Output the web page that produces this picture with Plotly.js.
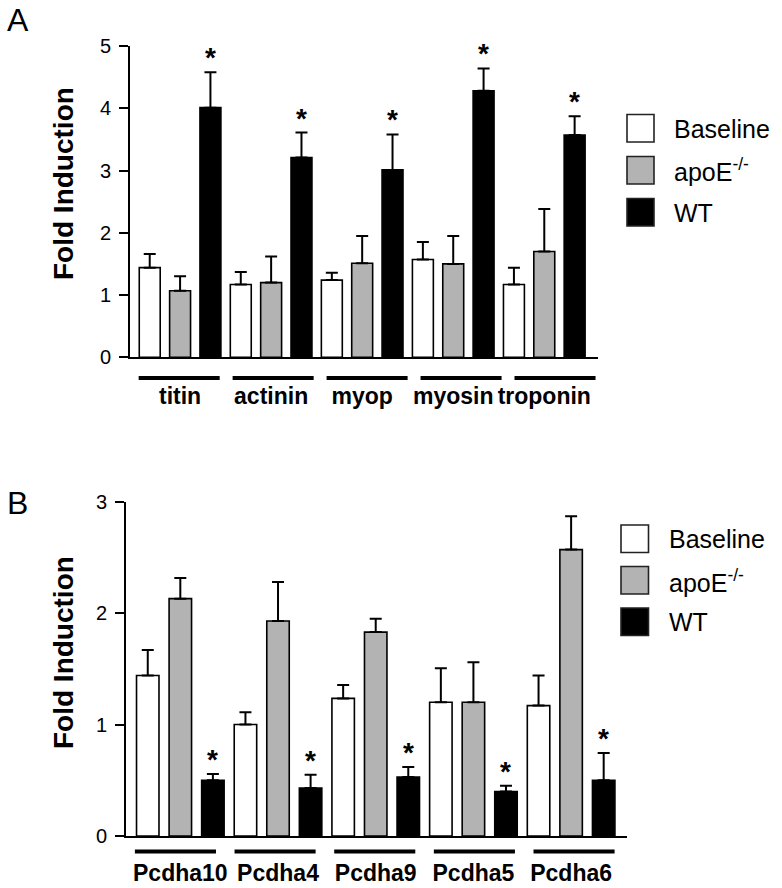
<!DOCTYPE html>
<html>
<head>
<meta charset="utf-8">
<script src="https://cdn.plot.ly/plotly-3.0.1.min.js"></script>
<style>html,body{margin:0;padding:0;background:#fff;}#chart{width:782px;height:888px;}</style>
</head>
<body>
<div id="chart"></div>
<script>
// ---- Data ----
const seriesNames = ['Baseline', 'apoE<sup>-/-</sup>', 'WT'];
const seriesColors = ['#ffffff', '#b3b3b3', '#000000'];

const catsA = ['titin', 'actinin', 'myop', 'myosin', 'troponin'];
const baseA = [1.44, 1.17, 1.24, 1.57, 1.17];
const baseErrA = [0.22, 0.20, 0.12, 0.28, 0.27];
const apoeA = [1.07, 1.20, 1.51, 1.50, 1.70];
const apoeErrA = [0.23, 0.42, 0.44, 0.45, 0.68];
const wtA = [4.01, 3.21, 3.01, 4.28, 3.57];
const wtErrA = [0.57, 0.40, 0.57, 0.36, 0.30];

const catsB = ['Pcdha10', 'Pcdha4', 'Pcdha9', 'Pcdha5', 'Pcdha6'];
const baseB = [1.44, 1.00, 1.235, 1.20, 1.17];
const baseErrB = [0.23, 0.11, 0.12, 0.305, 0.27];
const apoeB = [2.13, 1.93, 1.83, 1.20, 2.57];
const apoeErrB = [0.185, 0.35, 0.12, 0.36, 0.30];
const wtB = [0.50, 0.43, 0.53, 0.40, 0.50];
const wtErrB = [0.056, 0.12, 0.09, 0.05, 0.245];

const yTicksA = [0, 1, 2, 3, 4, 5];
const yTicksB = [0, 1, 2, 3];

// ---- Build ----
const FONT = 'Liberation Sans, Arial, Helvetica, sans-serif';
const W = 782, H = 888;
const px = v => v / W;            // px -> paper x
const py = v => (H - v) / H;      // px (from top) -> paper y

function barTrace(cats, vals, errs, k, xa, ya) {
  return {
    type: 'bar', x: cats, y: vals, xaxis: xa, yaxis: ya,
    name: seriesNames[k], showlegend: false, hoverinfo: 'skip',
    marker: {color: seriesColors[k], line: {color: '#000', width: 1.6}},
    error_y: {type: 'data', symmetric: false, array: errs, arrayminus: errs.map(() => 0),
              color: '#000', thickness: 2, width: 6}
  };
}

const data = [
  barTrace(catsA, baseA, baseErrA, 0, 'x', 'y'),
  barTrace(catsA, apoeA, apoeErrA, 1, 'x', 'y'),
  barTrace(catsA, wtA, wtErrA, 2, 'x', 'y'),
  barTrace(catsB, baseB, baseErrB, 0, 'x2', 'y2'),
  barTrace(catsB, apoeB, apoeErrB, 1, 'x2', 'y2'),
  barTrace(catsB, wtB, wtErrB, 2, 'x2', 'y2')
];

const annotations = [];
const shapes = [];

// asterisks above WT error bars
function stars(cats, vals, errs, xr, yr) {
  cats.forEach((c, i) => {
    annotations.push({xref: xr, yref: yr, x: i + 1/3, y: vals[i] + errs[i],
      text: '<b>*</b>', showarrow: false, yanchor: 'bottom', yshift: -3,
      font: {family: FONT, size: 28, color: '#000'}});
  });
}
stars(catsA, wtA, wtErrA, 'x', 'y');
stars(catsB, wtB, wtErrB, 'x2', 'y2');

// group underlines
function underlines(cats, xr, yPx, stretch, shift, half) {
  cats.forEach((c, i) => {
    const cx = i * stretch + shift;
    shapes.push({type: 'line', xref: xr, yref: 'paper', x0: cx - half, x1: cx + half,
      y0: py(yPx), y1: py(yPx), line: {color: '#000', width: 4}});
  });
}
underlines(catsA, 'x', 378, 1.032, -0.01, 0.445);
underlines(catsB, 'x2', 851.5, 1.02, -0.05, 0.415);

// custom legends
function legend(x0, x1, tops, textX) {
  seriesNames.forEach((n, k) => {
    shapes.push({type: 'rect', xref: 'paper', yref: 'paper', x0: px(x0), x1: px(x1),
      y0: py(tops[k] + 27.5), y1: py(tops[k]),
      fillcolor: seriesColors[k], line: {color: '#222', width: 1.6}});
    annotations.push({xref: 'paper', yref: 'paper', x: px(textX), y: py(tops[k] + 14),
      xanchor: 'left', yanchor: 'middle', showarrow: false, text: n,
      font: {family: FONT, size: 25, color: '#000'}});
  });
}
legend(627, 654, [114.5, 156.5, 198.5], 672);
legend(621, 648.5, [525, 566.5, 608], 667);

// y titles & panel letters
annotations.push({xref: 'paper', yref: 'paper', x: px(63), y: py(184), text: '<b>Fold Induction</b>',
  textangle: -90, showarrow: false, xanchor: 'center', yanchor: 'middle',
  font: {family: FONT, size: 28, color: '#000'}});
annotations.push({xref: 'paper', yref: 'paper', x: px(63), y: py(653), text: '<b>Fold Induction</b>',
  textangle: -90, showarrow: false, xanchor: 'center', yanchor: 'middle',
  font: {family: FONT, size: 28, color: '#000'}});
annotations.push({xref: 'paper', yref: 'paper', x: px(18), y: py(20), text: 'A',
  showarrow: false, xanchor: 'center', yanchor: 'middle', font: {family: FONT, size: 32, color: '#000'}});
annotations.push({xref: 'paper', yref: 'paper', x: px(17), y: py(503), text: 'B',
  showarrow: false, xanchor: 'center', yanchor: 'middle', font: {family: FONT, size: 32, color: '#000'}});

function xAxis(cats, dom, range, standoff) {
  return {domain: dom, type: 'category', categoryarray: cats, range: range,
    showline: true, linecolor: '#000', linewidth: 2, ticks: '', showgrid: false, zeroline: false,
    tickfont: {family: FONT, size: 23, color: '#000', weight: 'bold'},
    ticklabelstandoff: standoff, fixedrange: true};
}
function yAxis(dom, range, ticks) {
  return {domain: dom, range: range, tickvals: ticks, ticktext: ticks.map(String),
    showline: true, linecolor: '#000', linewidth: 2, ticks: 'outside', ticklen: 9, tickwidth: 2,
    tickcolor: '#000', showgrid: false, zeroline: false,
    tickfont: {family: FONT, size: 20, color: '#000'}, ticklabelstandoff: 4, fixedrange: true};
}

const layout = {
  width: W, height: H,
  margin: {l: 0, r: 0, t: 0, b: 0},
  paper_bgcolor: '#fff', plot_bgcolor: 'rgba(0,0,0,0)',
  barmode: 'group', bargap: 0, bargroupgap: 0.31,
  showlegend: false,
  xaxis: xAxis(catsA, [px(130), px(598)], [-0.55, 4.59], 17),
  yaxis: yAxis([py(357.3), py(46)], [0, 5], yTicksA),
  xaxis2: Object.assign(xAxis(catsB, [px(126), px(627)], [-0.556, 4.572], 15), {anchor: 'y2'}),
  yaxis2: Object.assign(yAxis([py(836), py(501.7)], [0, 3], yTicksB), {anchor: 'x2'}),
  annotations: annotations,
  shapes: shapes
};
layout.xaxis.anchor = 'y';
layout.yaxis.anchor = 'x';

Plotly.newPlot('chart', data, layout, {displayModeBar: false, staticPlot: true});
</script>
</body>
</html>
